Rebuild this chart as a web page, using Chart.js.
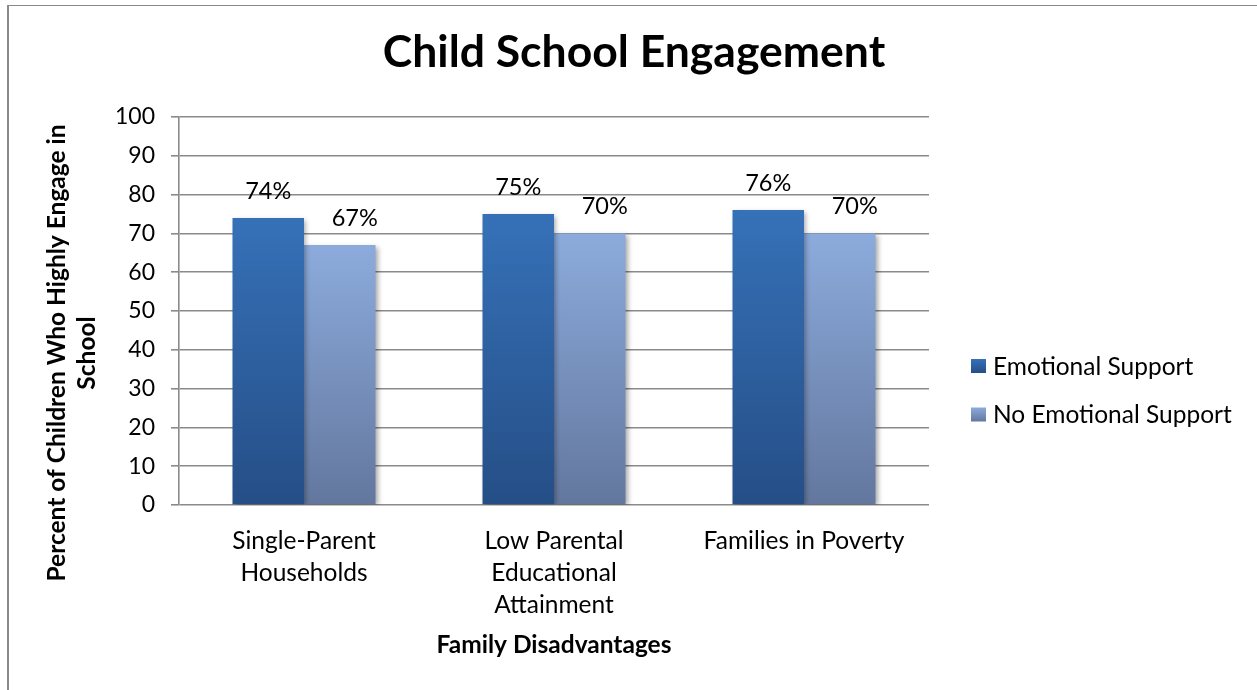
<!DOCTYPE html>
<html lang="en">
<head>
  <meta charset="UTF-8">
  <title>Child School Engagement</title>
  <script src="https://cdn.jsdelivr.net/npm/chart.js"></script>
  <style>
    html, body { margin: 0; padding: 0; background: #fff; overflow: hidden; }
    #frame {
      position: absolute; left: 7px; top: 5px; width: 1300px; height: 720px;
      border-left: 2px solid #8a8a8a; border-top: 1.5px solid #8a8a8a;
    }
    #chart { position: absolute; left: 0; top: 0; }
  </style>
</head>
<body>
  <div id="frame"></div>
  <canvas id="chart" width="1257" height="690"></canvas>

  <script>
    // data
    const categories = [
      ['Single-Parent', 'Households'],
      ['Low Parental', 'Educational', 'Attainment'],
      'Families in Poverty'
    ];
    const seriesNames = ['Emotional Support', 'No Emotional Support'];
    const emotional = [74, 75, 76];
    const noEmotional = [67, 70, 70];
    const yTicks = { min: 0, max: 100, step: 10 };

    const FONT = 'Lato, "Open Sans", sans-serif';
    const GRID = '#8a8a8a';

    // top/bottom colours of each series gradient
    const shades = [
      ['#3671b8', '#254e86'],
      ['#8cabdc', '#63779e']
    ];

    function barFill(i) {
      return function (c) {
        const chart = c.chart;
        const area = chart.chartArea;
        if (!area || c.raw === undefined) return shades[i][1];
        const top = chart.scales.y.getPixelForValue(c.raw);
        const g = chart.ctx.createLinearGradient(0, top, 0, area.bottom);
        g.addColorStop(0, shades[i][0]);
        g.addColorStop(1, shades[i][1]);
        return g;
      };
    }

    // shadow under bars, % labels, titles and legend
    const decorations = {
      id: 'decorations',
      beforeDatasetsDraw(chart) {
        const ctx = chart.ctx;
        ctx.save();
        ctx.shadowColor = 'rgba(0,0,0,0.35)';
        ctx.shadowBlur = 5;
        ctx.shadowOffsetX = 2;
        ctx.shadowOffsetY = 2;
      },
      afterDatasetsDraw(chart) {
        const ctx = chart.ctx;
        ctx.restore();

        // value labels
        const shift = [0, 15];
        ctx.save();
        ctx.fillStyle = '#000';
        ctx.font = '23.5px ' + FONT;
        ctx.textAlign = 'center';
        ctx.textBaseline = 'alphabetic';
        chart.data.datasets.forEach((ds, di) => {
          chart.getDatasetMeta(di).data.forEach((bar, i) => {
            ctx.fillText(ds.data[i] + '%', bar.x + shift[di], bar.y - 19);
          });
        });
        ctx.restore();
      },
      afterDraw(chart) {
        const ctx = chart.ctx;
        ctx.save();
        ctx.fillStyle = '#000';
        ctx.textAlign = 'center';
        ctx.textBaseline = 'alphabetic';

        // main title
        ctx.font = 'bold 44.5px ' + FONT;
        ctx.fillText('Child School Engagement', 634, 67);

        // x axis title
        ctx.font = 'bold 24.5px ' + FONT;
        ctx.fillText('Family Disadvantages', 554, 653);

        // y axis title, two lines
        ctx.save();
        ctx.translate(0, 353);
        ctx.rotate(-Math.PI / 2);
        ctx.fillText('Percent of Children Who Highly Engage in', 0, 65);
        ctx.fillText('School', 0, 95);
        ctx.restore();

        // legend
        ctx.textAlign = 'left';
        ctx.font = '24.5px ' + FONT;
        ctx.textBaseline = 'middle';
        seriesNames.forEach((name, i) => {
          const y = 359 + i * 48.5;
          const g = ctx.createLinearGradient(0, y, 0, y + 14);
          g.addColorStop(0, shades[i][0]);
          g.addColorStop(1, shades[i][1]);
          ctx.fillStyle = g;
          ctx.fillRect(971, y, 15, 14);
          ctx.fillStyle = '#000';
          ctx.fillText(name, 993, y + 8);
        });
        ctx.restore();
      }
    };

    new Chart(document.getElementById('chart'), {
      type: 'bar',
      data: {
        labels: categories,
        datasets: [
          { label: seriesNames[0], data: emotional, backgroundColor: barFill(0) },
          { label: seriesNames[1], data: noEmotional, backgroundColor: barFill(1) }
        ]
      },
      options: {
        responsive: false,
        animation: false,
        events: [],
        layout: { padding: { top: 117, right: 328, bottom: 0, left: 0 } },
        datasets: {
          bar: { categoryPercentage: 0.572, barPercentage: 1.0, borderWidth: 0 }
        },
        plugins: {
          legend: { display: false },
          title: { display: false },
          tooltip: { enabled: false }
        },
        scales: {
          x: {
            grid: { display: false, drawTicks: false },
            border: { display: false },
            ticks: {
              color: '#000',
              font: { family: FONT, size: 24.5, lineHeight: 1.3 },
              padding: 20,
              maxRotation: 0,
              autoSkip: false
            },
            afterFit(s) { s.height = 185; }
          },
          y: {
            min: yTicks.min,
            max: yTicks.max,
            ticks: {
              stepSize: yTicks.step,
              color: '#000',
              font: { family: FONT, size: 23 },
              padding: 16
            },
            grid: { color: GRID, lineWidth: 1.6, tickLength: 8 },
            border: { color: GRID, width: 1.6 },
            afterFit(s) { s.width = 179; }
          }
        }
      },
      plugins: [decorations]
    });
  </script>
</body>
</html>
